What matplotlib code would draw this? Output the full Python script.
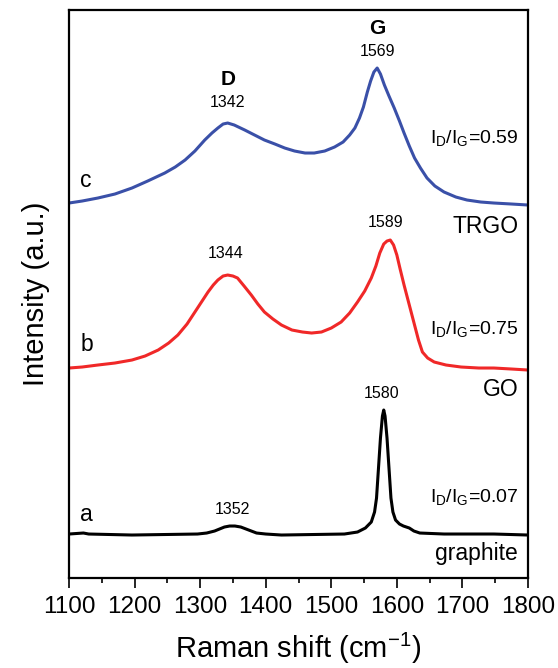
import numpy as np
import matplotlib
matplotlib.use("Agg")
import matplotlib.pyplot as plt
from matplotlib.ticker import MultipleLocator

plt.rcParams['font.family'] = ['Liberation Sans', 'DejaVu Sans']
plt.rcParams['mathtext.fontset'] = 'custom'
plt.rcParams['mathtext.rm'] = 'Liberation Sans'
plt.rcParams['mathtext.it'] = 'Liberation Sans'

# curve c - TRGO (a.u.)
trgo_x = [1100, 1120, 1144, 1170, 1196, 1220, 1246, 1262, 1277, 1292, 1307, 1318,
          1327, 1335, 1342, 1352, 1368, 1383, 1398, 1414, 1429, 1444, 1460, 1474,
          1490, 1505, 1518, 1528, 1536, 1543, 1549, 1555, 1560, 1565, 1570, 1575,
          1581, 1588, 1596, 1604, 1611, 1619, 1627, 1636, 1646, 1658, 1672, 1690,
          1707, 1728, 1748, 1775, 1800]
trgo_y = [375, 377, 380, 384, 390, 397, 405, 411, 418, 427, 438, 445,
          450, 454, 455, 453, 448, 443, 438, 434, 430, 427, 425, 425,
          427, 431, 436, 443, 450, 460, 471, 486, 497, 506, 510, 504,
          493, 482, 470, 457, 445, 432, 420, 410, 400, 392, 386, 381,
          378, 376, 375, 374, 373]

# curve b - GO
go_x = [1100, 1120, 1144, 1170, 1196, 1216, 1236, 1252, 1266, 1280, 1292, 1303,
        1312, 1320, 1327, 1335, 1342, 1350, 1357, 1367, 1378, 1388, 1398, 1411,
        1424, 1440, 1456, 1470, 1485, 1500, 1515, 1528, 1540, 1551, 1561, 1568,
        1574, 1580, 1585, 1590, 1595, 1600, 1605, 1611, 1619, 1627, 1633, 1639,
        1647, 1657, 1675, 1698, 1725, 1748, 1775, 1800]
go_y = [210, 211, 213, 215, 218, 222, 228, 235, 243, 254, 266, 277,
        286, 293, 298, 302, 303, 302, 300, 292, 283, 274, 266, 259,
        253, 248, 246, 245, 246, 250, 256, 265, 276, 287, 300, 312,
        325, 334, 337, 338, 333, 323, 309, 293, 273, 253, 238, 226,
        220, 216, 213, 211, 210, 210, 209, 208]

# curve a - graphite
gr_x = [1100, 1122, 1130, 1196, 1296, 1310, 1322, 1337, 1345, 1353, 1362, 1370,
        1378, 1386, 1400, 1424, 1520, 1540, 1552, 1561, 1566, 1569, 1572, 1575,
        1578, 1580, 1582, 1585, 1588, 1591, 1594, 1598, 1604, 1610, 1619, 1626,
        1635, 1672, 1748, 1800]
gr_y = [44, 45, 44, 43, 44, 45, 47, 51, 52, 52, 51, 49,
        47, 45, 44, 43, 44, 46, 50, 56, 66, 80, 110, 140,
        162, 168, 162, 140, 110, 80, 66, 58, 54, 52, 50, 47,
        45, 44, 44, 43]

peak_labels = [("1342", 1342, 476), ("1569", 1570, 527), ("1344", 1339, 325),
               ("1589", 1583, 356), ("1580", 1577, 185), ("1352", 1349, 69)]
ratios = [("0.59", 440), ("0.75", 249), ("0.07", 81)]
samples = [("TRGO", 352), ("GO", 189), ("graphite", 25)]
letters = [("c", 398), ("b", 234), ("a", 64)]

fig = plt.figure(figsize=(5.58, 6.68), dpi=100)
ax = fig.add_axes([0.1237, 0.1347, 0.8225, 0.8503])

ax.plot(trgo_x, trgo_y, color="#3a50a8", lw=2.2)
ax.plot(go_x, go_y, color="#f02828", lw=2.2)
ax.plot(gr_x, gr_y, color="black", lw=2.2)

ax.set_xlim(1100, 1800)
ax.set_ylim(0, 568)
ax.xaxis.set_major_locator(MultipleLocator(100))
ax.xaxis.set_minor_locator(MultipleLocator(50))
ax.tick_params(axis="x", which="major", direction="out", length=7.2, width=1.2,
               labelsize=17.5, pad=6)
ax.tick_params(axis="x", which="minor", direction="out", length=3.6, width=1.2)
ax.set_yticks([])
for s in ax.spines.values():
    s.set_linewidth(1.6)

ax.set_xlabel("Raman shift (cm$^{-1}$)", fontsize=21, labelpad=9)
ax.set_ylabel("Intensity (a.u.)", fontsize=21, labelpad=14)

ax.text(1342, 499, "D", fontsize=15, fontweight="bold", ha="center", va="center")
ax.text(1570, 550, "G", fontsize=15, fontweight="bold", ha="center", va="center")
for txt, x, y in peak_labels:
    ax.text(x, y, txt, fontsize=11.5, ha="center", va="center")
for val, y in ratios:
    ax.text(1785, y, r"$\mathrm{I_D/I_G}$=" + val, fontsize=14, ha="right", va="center")
for name, y in samples:
    ax.text(1785, y, name, fontsize=16.5, ha="right", va="center")
for lt, y in letters:
    ax.text(1117, y, lt, fontsize=16.5, ha="left", va="center")

fig.savefig("out.png", dpi=100)
